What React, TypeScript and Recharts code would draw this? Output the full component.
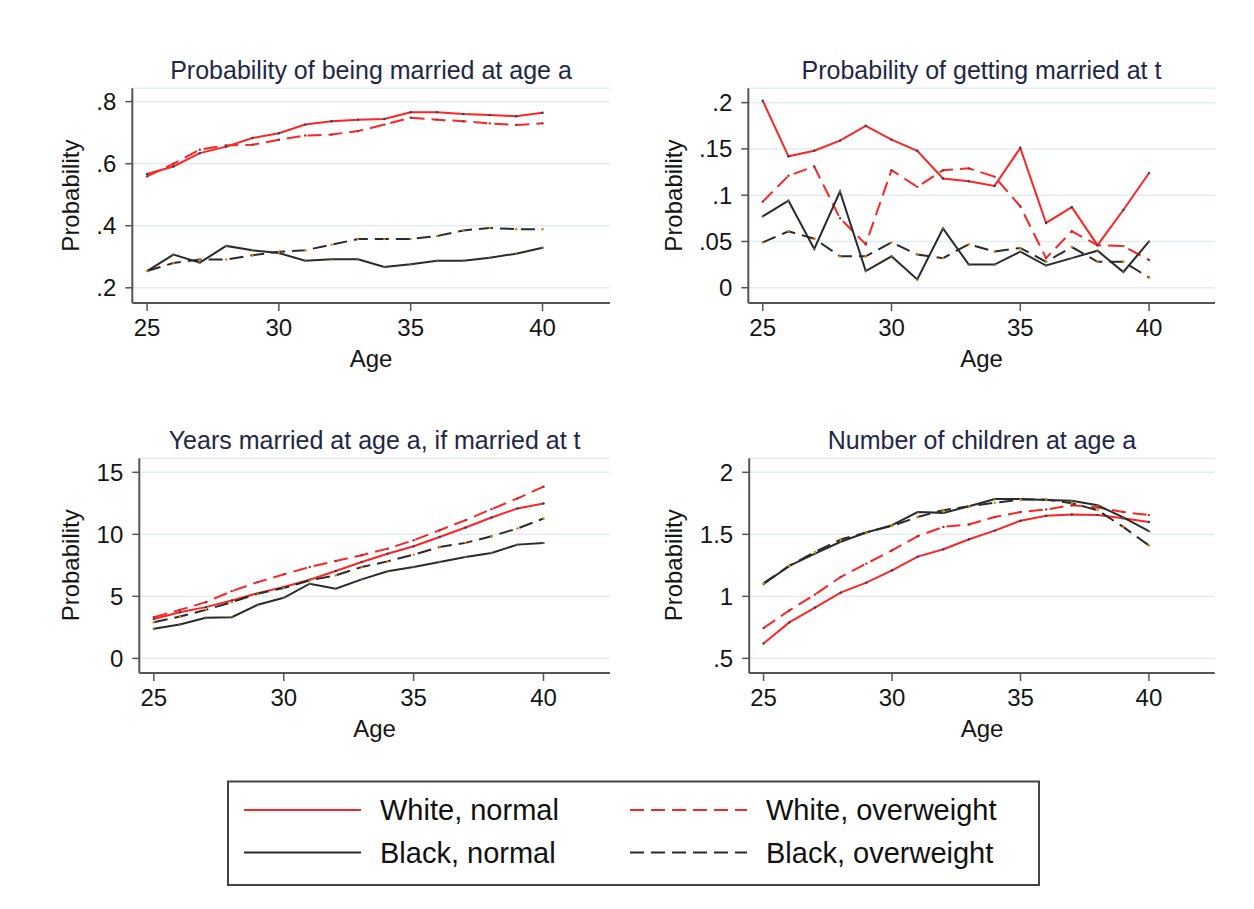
import React from 'react';
import { LineChart, Line, XAxis, YAxis, CartesianGrid } from 'recharts';

// ages 25..40
const ages = [25, 26, 27, 28, 29, 30, 31, 32, 33, 34, 35, 36, 37, 38, 39, 40];
const ageTicks = [25, 30, 35, 40];

// Probability of being married at age a
const marriedWN = [0.567, 0.591, 0.634, 0.655, 0.683, 0.698, 0.726, 0.737, 0.742, 0.744, 0.766, 0.766, 0.760, 0.757, 0.753, 0.764];
const marriedWO = [0.559, 0.600, 0.645, 0.659, 0.661, 0.677, 0.691, 0.694, 0.705, 0.726, 0.748, 0.742, 0.737, 0.730, 0.725, 0.730];
const marriedBN = [0.254, 0.307, 0.281, 0.335, 0.321, 0.312, 0.287, 0.292, 0.292, 0.267, 0.276, 0.287, 0.287, 0.297, 0.310, 0.329];
const marriedBO = [0.254, 0.280, 0.291, 0.291, 0.305, 0.316, 0.321, 0.339, 0.357, 0.357, 0.357, 0.367, 0.385, 0.393, 0.389, 0.389];
const marriedTicks = [0.2, 0.4, 0.6, 0.8];

// Probability of getting married at t
const getMarWN = [0.202, 0.142, 0.148, 0.159, 0.175, 0.160, 0.148, 0.118, 0.115, 0.110, 0.151, 0.070, 0.087, 0.046, 0.084, 0.124];
const getMarWO = [0.093, 0.121, 0.131, 0.075, 0.047, 0.127, 0.109, 0.127, 0.129, 0.120, 0.088, 0.032, 0.061, 0.046, 0.045, 0.030];
const getMarBN = [0.077, 0.094, 0.042, 0.104, 0.018, 0.034, 0.009, 0.064, 0.025, 0.025, 0.039, 0.024, 0.032, 0.040, 0.017, 0.050];
const getMarBO = [0.049, 0.061, 0.053, 0.034, 0.034, 0.049, 0.036, 0.032, 0.047, 0.039, 0.043, 0.028, 0.044, 0.028, 0.028, 0.011];
const getMarTicks = [0, 0.05, 0.1, 0.15, 0.2];

// Years married at age a, if married at t
const yearsWN = [3.18, 3.72, 4.13, 4.67, 5.26, 5.75, 6.34, 7.04, 7.77, 8.44, 9.04, 9.79, 10.55, 11.36, 12.09, 12.49];
const yearsWO = [3.32, 3.91, 4.53, 5.42, 6.15, 6.77, 7.37, 7.85, 8.31, 8.85, 9.52, 10.33, 11.14, 12.03, 12.90, 13.84];
const yearsBN = [2.38, 2.73, 3.27, 3.32, 4.32, 4.88, 6.02, 5.61, 6.37, 7.02, 7.37, 7.77, 8.18, 8.50, 9.17, 9.31];
const yearsBO = [2.91, 3.37, 3.91, 4.53, 5.21, 5.67, 6.29, 6.69, 7.37, 7.82, 8.36, 8.98, 9.31, 9.85, 10.47, 11.28];
const yearsTicks = [0, 5, 10, 15];

// Number of children at age a
const kidsWN = [0.62, 0.79, 0.91, 1.03, 1.11, 1.21, 1.32, 1.38, 1.46, 1.53, 1.61, 1.65, 1.66, 1.655, 1.63, 1.60];
const kidsWO = [0.745, 0.886, 1.015, 1.156, 1.264, 1.371, 1.485, 1.56, 1.58, 1.64, 1.68, 1.70, 1.735, 1.717, 1.68, 1.655];
const kidsBN = [1.10, 1.245, 1.345, 1.44, 1.515, 1.574, 1.68, 1.673, 1.727, 1.784, 1.784, 1.776, 1.77, 1.735, 1.636, 1.525];
const kidsBO = [1.107, 1.245, 1.358, 1.458, 1.515, 1.568, 1.64, 1.695, 1.727, 1.755, 1.78, 1.78, 1.75, 1.695, 1.56, 1.41];
const kidsTicks = [0.5, 1, 1.5, 2];

const seriesNames = ['White, normal', 'White, overweight', 'Black, normal', 'Black, overweight'];

const FONT = '"Liberation Sans", Arial, Helvetica, sans-serif';
const RED = '#ff2424';
const BLACK = '#2a2a2a';
const AXIS = '#555';
const GRID = '#e3ecef';
const DASH = '14 7';

const seriesStyle = [
    { key: 'wn', color: RED, dash: undefined, dot: '#1a476f' },
    { key: 'wo', color: RED, dash: DASH, dot: '#90353b' },
    { key: 'bn', color: BLACK, dash: undefined, dot: '#55752f' },
    { key: 'bo', color: BLACK, dash: DASH, dot: '#e37e00' },
];

const makeRows = (wn: number[], wo: number[], bn: number[], bo: number[]) =>
    ages.map((age, i) => ({ age, wn: wn[i], wo: wo[i], bn: bn[i], bo: bo[i] }));

// Stata style labels: drop the leading zero
const stataFmt = (v: number) => (v === 0 ? '0' : String(v).replace(/^0\./, '.'));

const CHART_W = 627;
const CHART_H = 385;
const Y_W = 80;
const X_H = 40;

interface PanelProps {
    rows: any[];
    yDomain: [number, number];
    yTicks: number[];
    left: number;
    top: number;
    plotLeft: number;
    plotRight: number;
}

const Panel: React.FC<PanelProps> = ({ rows, yDomain, yTicks, left, top, plotLeft, plotRight }) => {
    const margin = {
        top: 88.3,
        left: plotLeft - Y_W,
        right: CHART_W - plotRight,
        bottom: CHART_H - 303 - X_H,
    };
    return (
        <div style={{ position: 'absolute', left, top }}>
            <LineChart width={CHART_W} height={CHART_H} data={rows} margin={margin}>
                <CartesianGrid vertical={false} stroke={GRID} strokeWidth={1.5} />
                <XAxis
                    dataKey="age"
                    type="number"
                    domain={[24.44, 42.56]}
                    ticks={ageTicks}
                    interval={0}
                    allowDataOverflow
                    height={X_H}
                    tickSize={8}
                    tickMargin={8}
                    axisLine={{ stroke: AXIS, strokeWidth: 2 }}
                    tickLine={{ stroke: AXIS, strokeWidth: 1.5 }}
                    tick={{ fontSize: 24, fill: '#151515', fontFamily: FONT }}
                />
                <YAxis
                    type="number"
                    domain={yDomain}
                    ticks={yTicks}
                    interval={0}
                    allowDataOverflow
                    width={Y_W}
                    tickSize={7}
                    tickMargin={9}
                    tickFormatter={stataFmt}
                    axisLine={{ stroke: AXIS, strokeWidth: 2 }}
                    tickLine={{ stroke: AXIS, strokeWidth: 1.5 }}
                    tick={{ fontSize: 24, fill: '#151515', fontFamily: FONT }}
                />
                {seriesStyle.map((s, i) => (
                    <Line
                        key={s.key}
                        dataKey={s.key}
                        name={seriesNames[i]}
                        type="linear"
                        stroke={s.color}
                        strokeWidth={2}
                        strokeDasharray={s.dash}
                        dot={{ r: 1.2, fill: s.dot, stroke: 'none' }}
                        activeDot={false}
                        isAnimationActive={false}
                    />
                ))}
            </LineChart>
        </div>
    );
};

const titles = [
    { text: 'Probability of being married at age a', x: 371, y: 79 },
    { text: 'Probability of getting married at t', x: 981.5, y: 79 },
    { text: 'Years married at age a, if married at t', x: 374.6, y: 449 },
    { text: 'Number of children at age a', x: 982, y: 449 },
];

const yLabels = [
    { x: 79, y: 195.6 },
    { x: 682, y: 195.6 },
    { x: 79, y: 565.3 },
    { x: 682, y: 565.3 },
];

const xLabels = [
    { x: 371, y: 366.5 },
    { x: 981.5, y: 366.5 },
    { x: 374.6, y: 737 },
    { x: 982, y: 737 },
];

const legendRows = [
    { x1: 244, x2: 361, tx: 380, y: 810, s: 0 },
    { x1: 630, x2: 747, tx: 766, y: 810, s: 1 },
    { x1: 244, x2: 361, tx: 380, y: 852.5, s: 2 },
    { x1: 630, x2: 747, tx: 766, y: 852.5, s: 3 },
];

export default function App() {
    return (
        <div style={{ position: 'absolute', left: 0, top: 0, width: 1254, height: 909, background: '#fff', fontFamily: FONT }}>
            <Panel rows={makeRows(marriedWN, marriedWO, marriedBN, marriedBO)} yDomain={[0.151, 0.843]} yTicks={marriedTicks} left={0} top={0} plotLeft={132.3} plotRight={610} />
            <Panel rows={makeRows(getMarWN, getMarWO, getMarBN, getMarBO)} yDomain={[-0.0165, 0.2155]} yTicks={getMarTicks} left={627} top={0} plotLeft={121.3} plotRight={588} />
            <Panel rows={makeRows(yearsWN, yearsWO, yearsBN, yearsBO)} yDomain={[-1.18, 16.13]} yTicks={yearsTicks} left={0} top={370} plotLeft={139.3} plotRight={610} />
            <Panel rows={makeRows(kidsWN, kidsWO, kidsBN, kidsBO)} yDomain={[0.382, 2.113]} yTicks={kidsTicks} left={627} top={370} plotLeft={122.2} plotRight={587.7} />

            <svg width={1254} height={909} style={{ position: 'absolute', left: 0, top: 0, pointerEvents: 'none' }}>
                {titles.map((t) => (
                    <text key={t.text} x={t.x} y={t.y} textAnchor="middle" fontSize={25} fill="#1f2747" fontFamily={FONT}>
                        {t.text}
                    </text>
                ))}
                {yLabels.map((l, i) => (
                    <text key={'y' + i} x={l.x} y={l.y} transform={`rotate(-90 ${l.x} ${l.y})`} textAnchor="middle" fontSize={24} fill="#151515" fontFamily={FONT}>
                        Probability
                    </text>
                ))}
                {xLabels.map((l, i) => (
                    <text key={'x' + i} x={l.x} y={l.y} textAnchor="middle" fontSize={24} fill="#151515" fontFamily={FONT}>
                        Age
                    </text>
                ))}

                {/* legend */}
                <rect x={228} y={781.5} width={811} height={103.5} fill="#fff" stroke="#444" strokeWidth={2} />
                {legendRows.map((r) => {
                    const s = seriesStyle[r.s];
                    return (
                        <g key={r.s}>
                            <line x1={r.x1} x2={r.x2} y1={r.y} y2={r.y} stroke={s.color} strokeWidth={2} strokeDasharray={s.dash} />
                            <text x={r.tx} y={r.y + 10} fontSize={29} fill="#111" fontFamily={FONT}>
                                {seriesNames[r.s]}
                            </text>
                        </g>
                    );
                })}
            </svg>
        </div>
    );
}
